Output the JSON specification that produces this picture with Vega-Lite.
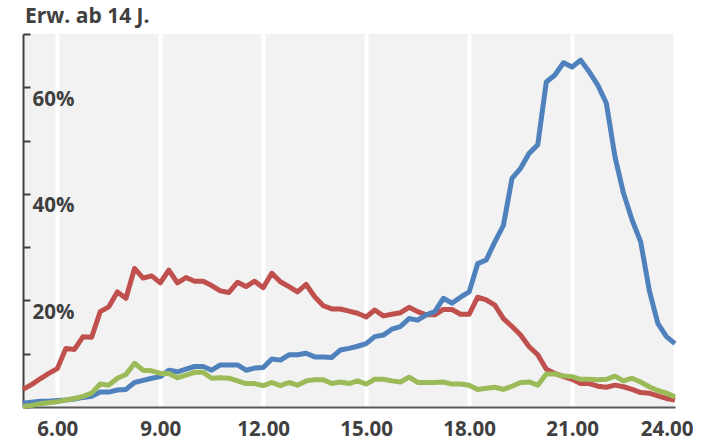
{
  "$schema": "https://vega.github.io/schema/vega-lite/v6.json",
  "width": 652,
  "height": 373,
  "autosize": {"type": "none"},
  "padding": {"left": 23, "top": 34, "right": 26, "bottom": 40},
  "background": "white",
  "title": {"text": "Erw. ab 14 J.", "anchor": "start", "frame": "group", "font": "Open Sans", "fontSize": 21, "fontWeight": "bold", "color": "#404040", "baseline": "alphabetic", "offset": 10, "dx": 2, "dy": 21},
  "config": {"view": {"fill": "#f2f2f2", "stroke": null}},
  "data": {"values": [
    {"t":5,"red":3.3,"blue":0.7,"green":0.1},
    {"t":5.25,"red":4.2,"blue":0.9,"green":0.3},
    {"t":5.5,"red":5.3,"blue":1.1,"green":0.6},
    {"t":5.75,"red":6.3,"blue":1.1,"green":0.8},
    {"t":6,"red":7.2,"blue":1.2,"green":1.0},
    {"t":6.25,"red":11.0,"blue":1.3,"green":1.3},
    {"t":6.5,"red":10.8,"blue":1.5,"green":1.6},
    {"t":6.75,"red":13.2,"blue":1.8,"green":2.0},
    {"t":7,"red":13.1,"blue":2.0,"green":2.6},
    {"t":7.25,"red":17.9,"blue":2.8,"green":4.3},
    {"t":7.5,"red":18.8,"blue":2.8,"green":4.1},
    {"t":7.75,"red":21.6,"blue":3.2,"green":5.4},
    {"t":8,"red":20.4,"blue":3.3,"green":6.1},
    {"t":8.25,"red":26.0,"blue":4.6,"green":8.2},
    {"t":8.5,"red":24.2,"blue":5.0,"green":6.9},
    {"t":8.75,"red":24.6,"blue":5.4,"green":6.8},
    {"t":9,"red":23.3,"blue":5.7,"green":6.3},
    {"t":9.25,"red":25.7,"blue":6.9,"green":6.3},
    {"t":9.5,"red":23.3,"blue":6.6,"green":5.5},
    {"t":9.75,"red":24.3,"blue":7.1,"green":6.0},
    {"t":10,"red":23.6,"blue":7.6,"green":6.5},
    {"t":10.25,"red":23.6,"blue":7.6,"green":6.5},
    {"t":10.5,"red":22.8,"blue":6.9,"green":5.4},
    {"t":10.75,"red":21.8,"blue":7.9,"green":5.5},
    {"t":11,"red":21.5,"blue":7.9,"green":5.4},
    {"t":11.25,"red":23.4,"blue":7.9,"green":4.9},
    {"t":11.5,"red":22.6,"blue":6.9,"green":4.4},
    {"t":11.75,"red":23.6,"blue":7.3,"green":4.4},
    {"t":12,"red":22.4,"blue":7.4,"green":4.0},
    {"t":12.25,"red":25.1,"blue":9.0,"green":4.6},
    {"t":12.5,"red":23.5,"blue":8.8,"green":4.0},
    {"t":12.75,"red":22.6,"blue":9.8,"green":4.6},
    {"t":13,"red":21.6,"blue":9.8,"green":4.1},
    {"t":13.25,"red":23.0,"blue":10.1,"green":4.9},
    {"t":13.5,"red":20.7,"blue":9.4,"green":5.1},
    {"t":13.75,"red":19.0,"blue":9.4,"green":5.1},
    {"t":14,"red":18.4,"blue":9.3,"green":4.4},
    {"t":14.25,"red":18.4,"blue":10.7,"green":4.7},
    {"t":14.5,"red":18.0,"blue":11.0,"green":4.4},
    {"t":14.75,"red":17.6,"blue":11.4,"green":4.9},
    {"t":15,"red":16.9,"blue":11.9,"green":4.3},
    {"t":15.25,"red":18.2,"blue":13.2,"green":5.2},
    {"t":15.5,"red":17.1,"blue":13.5,"green":5.2},
    {"t":15.75,"red":17.4,"blue":14.6,"green":4.9},
    {"t":16,"red":17.7,"blue":15.1,"green":4.7},
    {"t":16.25,"red":18.7,"blue":16.6,"green":5.6},
    {"t":16.5,"red":17.9,"blue":16.3,"green":4.6},
    {"t":16.75,"red":17.3,"blue":17.3,"green":4.6},
    {"t":17,"red":17.3,"blue":17.9,"green":4.6},
    {"t":17.25,"red":18.3,"blue":20.4,"green":4.7},
    {"t":17.5,"red":18.3,"blue":19.5,"green":4.3},
    {"t":17.75,"red":17.4,"blue":20.6,"green":4.3},
    {"t":18,"red":17.4,"blue":21.6,"green":4.1},
    {"t":18.25,"red":20.6,"blue":26.9,"green":3.3},
    {"t":18.5,"red":20.1,"blue":27.6,"green":3.5},
    {"t":18.75,"red":19.1,"blue":31.0,"green":3.7},
    {"t":19,"red":16.6,"blue":34.1,"green":3.3},
    {"t":19.25,"red":15.1,"blue":42.9,"green":3.9},
    {"t":19.5,"red":13.5,"blue":44.8,"green":4.6},
    {"t":19.75,"red":11.3,"blue":47.6,"green":4.7},
    {"t":20,"red":9.8,"blue":49.2,"green":4.1},
    {"t":20.25,"red":7.1,"blue":61.0,"green":6.2},
    {"t":20.5,"red":6.3,"blue":62.3,"green":6.2},
    {"t":20.75,"red":5.7,"blue":64.6,"green":5.8},
    {"t":21,"red":5.2,"blue":63.8,"green":5.7},
    {"t":21.25,"red":4.4,"blue":65.1,"green":5.2},
    {"t":21.5,"red":4.4,"blue":62.9,"green":5.2},
    {"t":21.75,"red":3.9,"blue":60.4,"green":5.1},
    {"t":22,"red":3.7,"blue":57.0,"green":5.2},
    {"t":22.25,"red":4.1,"blue":47.0,"green":5.8},
    {"t":22.5,"red":3.8,"blue":40.1,"green":4.9},
    {"t":22.75,"red":3.3,"blue":35.1,"green":5.4},
    {"t":23,"red":2.7,"blue":31.0,"green":4.7},
    {"t":23.25,"red":2.6,"blue":21.9,"green":3.8},
    {"t":23.5,"red":2.1,"blue":15.7,"green":3.1},
    {"t":23.75,"red":1.6,"blue":13.2,"green":2.6},
    {"t":24,"red":1.3,"blue":11.9,"green":1.9}
  ]},
  "layer": [
    {
      "mark": {"type": "line", "color": "#c0504d", "strokeWidth": 5, "strokeJoin": "round"},
      "encoding": {
        "x": {"field": "t", "type": "quantitative",
          "scale": {"domain": [5, 24], "nice": false, "zero": false},
          "axis": {"title": null, "values": [6, 9, 12, 15, 18, 21, 24],
            "labelExpr": "format(datum.value, '.2f')",
            "grid": true, "gridColor": "white", "gridWidth": 4,
            "ticks": false, "domainColor": "#595959", "domainWidth": 2,
            "labelPadding": 12, "labelFont": "Open Sans", "labelFontSize": 20.5,
            "labelFontWeight": "bold", "labelColor": "#404040",
            "labelFlush": true, "labelFlushOffset": 18, "labelOverlap": false}},
        "y": {"field": "red", "type": "quantitative",
          "scale": {"domain": [0, 70], "nice": false},
          "axis": {"title": null, "values": [0, 10, 20, 30, 40, 50, 60, 70],
            "labelExpr": "(datum.value == 20 || datum.value == 40 || datum.value == 60) ? datum.value + '%' : ''",
            "grid": false, "tickSize": -7, "tickWidth": 2, "tickColor": "#404040",
            "domainColor": "#404040", "domainWidth": 2,
            "labelAlign": "left", "labelBaseline": "middle", "labelPadding": -2, "labelOffset": 12,
            "labelFont": "Open Sans", "labelFontSize": 20.5, "labelFontWeight": "bold",
            "labelColor": "#404040", "labelOverlap": false}}
      }
    },
    {
      "mark": {"type": "line", "color": "#4f81bd", "strokeWidth": 5, "strokeJoin": "round"},
      "encoding": {
        "x": {"field": "t", "type": "quantitative"},
        "y": {"field": "blue", "type": "quantitative"}
      }
    },
    {
      "mark": {"type": "line", "color": "#9bbb59", "strokeWidth": 5, "strokeJoin": "round"},
      "encoding": {
        "x": {"field": "t", "type": "quantitative"},
        "y": {"field": "green", "type": "quantitative"}
      }
    }
  ]
}
